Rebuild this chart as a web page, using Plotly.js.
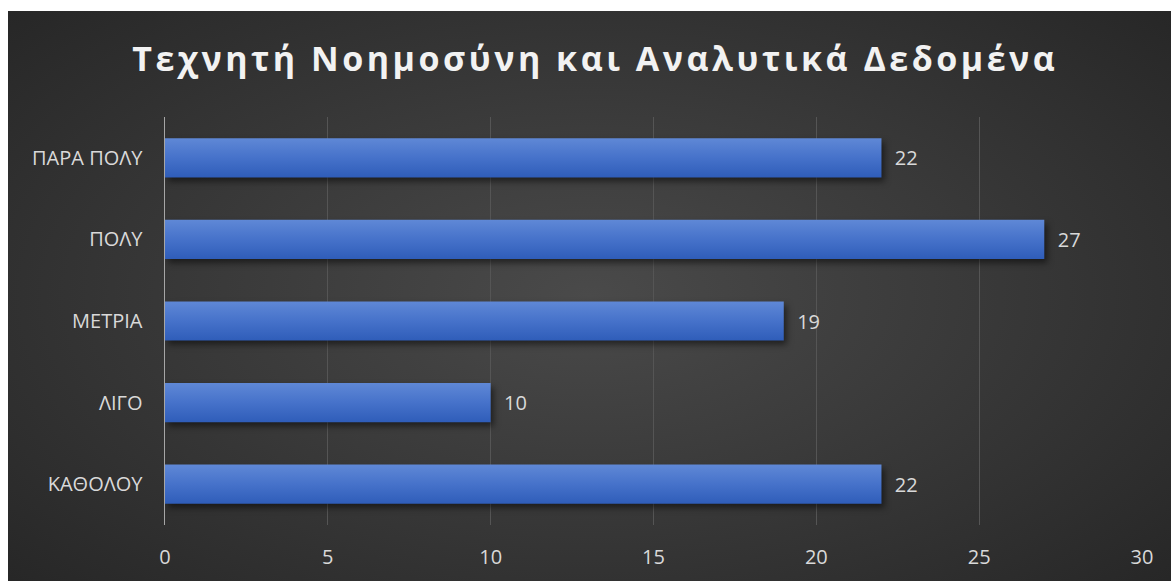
<!DOCTYPE html>
<html>
<head>
<meta charset="utf-8">
<script src="https://cdn.plot.ly/plotly-3.0.1.min.js"></script>
<style>
  html, body { margin: 0; padding: 0; background: #ffffff; width: 1171px; height: 581px; overflow: hidden; }
  #chart {
    position: absolute; left: 8px; top: 11px; width: 1163px; height: 570px;
    background: radial-gradient(ellipse 70% 75% at 50% 50%, #4a4a4a 0%, #3a3a3a 45%, #262626 100%);
  }
  #chart .gtitle { letter-spacing: 3.5px; }
  #chart .bars path { fill: url(#barGrad) !important; filter: drop-shadow(3px 4px 3px rgba(0,0,0,0.5)); }
</style>
</head>
<body>
<svg width="0" height="0" style="position:absolute">
  <defs>
    <linearGradient id="barGrad" x1="0" y1="0" x2="0" y2="1">
      <stop offset="0%" stop-color="#5f88d6"/>
      <stop offset="50%" stop-color="#4672ca"/>
      <stop offset="100%" stop-color="#2f5db9"/>
    </linearGradient>
  </defs>
</svg>
<div id="chart"></div>
<script>
const categories = ["ΚΑΘΟΛΟΥ", "ΛΙΓΟ", "ΜΕΤΡΙΑ", "ΠΟΛΥ", "ΠΑΡΑ ΠΟΛΥ"];
const values = [22, 10, 19, 27, 22];
const xTicks = [0, 5, 10, 15, 20, 25, 30];
const titleText = "Τεχνητή Νοημοσύνη και Αναλυτικά Δεδομένα";

const trace = {
  type: "bar",
  orientation: "h",
  y: categories,
  x: values,
  width: 0.48,
  marker: { color: "#4472c4" },
  text: values.map(String),
  texttemplate: "\u00a0\u00a0%{text}",
  textposition: "outside",
  textfont: { family: "Open Sans, sans-serif", size: 20, color: "#d9d9d9" },
  cliponaxis: false,
  hoverinfo: "none"
};

const layout = {
  width: 1163,
  height: 570,
  paper_bgcolor: "rgba(0,0,0,0)",
  plot_bgcolor: "rgba(0,0,0,0)",
  margin: { l: 157, r: 29, t: 106, b: 56 },
  showlegend: false,
  title: {
    text: "<b>" + titleText + "</b>",
    font: { family: "Open Sans, sans-serif", size: 34, color: "#f2f2f2" },
    x: 0.505, xanchor: "center",
    y: 0.915, yref: "container", yanchor: "middle"
  },
  xaxis: {
    range: [0, 30],
    tickvals: xTicks,
    ticktext: xTicks.map(String),
    showgrid: true,
    gridcolor: "#555555",
    gridwidth: 1.3,
    zeroline: false,
    showline: false,
    ticks: "",
    ticklabelstandoff: 18,
    tickfont: { family: "Open Sans, sans-serif", size: 20, color: "#d9d9d9" },
    fixedrange: true
  },
  yaxis: {
    type: "category",
    categoryorder: "array",
    categoryarray: categories,
    showgrid: false,
    zeroline: false,
    showline: true,
    linecolor: "#a6a6a6",
    linewidth: 1.5,
    ticks: "",
    ticklabelstandoff: 17,
    tickfont: { family: "Open Sans, sans-serif", size: 20, color: "#d9d9d9" },
    fixedrange: true
  },
  bargap: 0.52
};

Plotly.newPlot("chart", [trace], layout, { staticPlot: true, displayModeBar: false });
</script>
</body>
</html>
